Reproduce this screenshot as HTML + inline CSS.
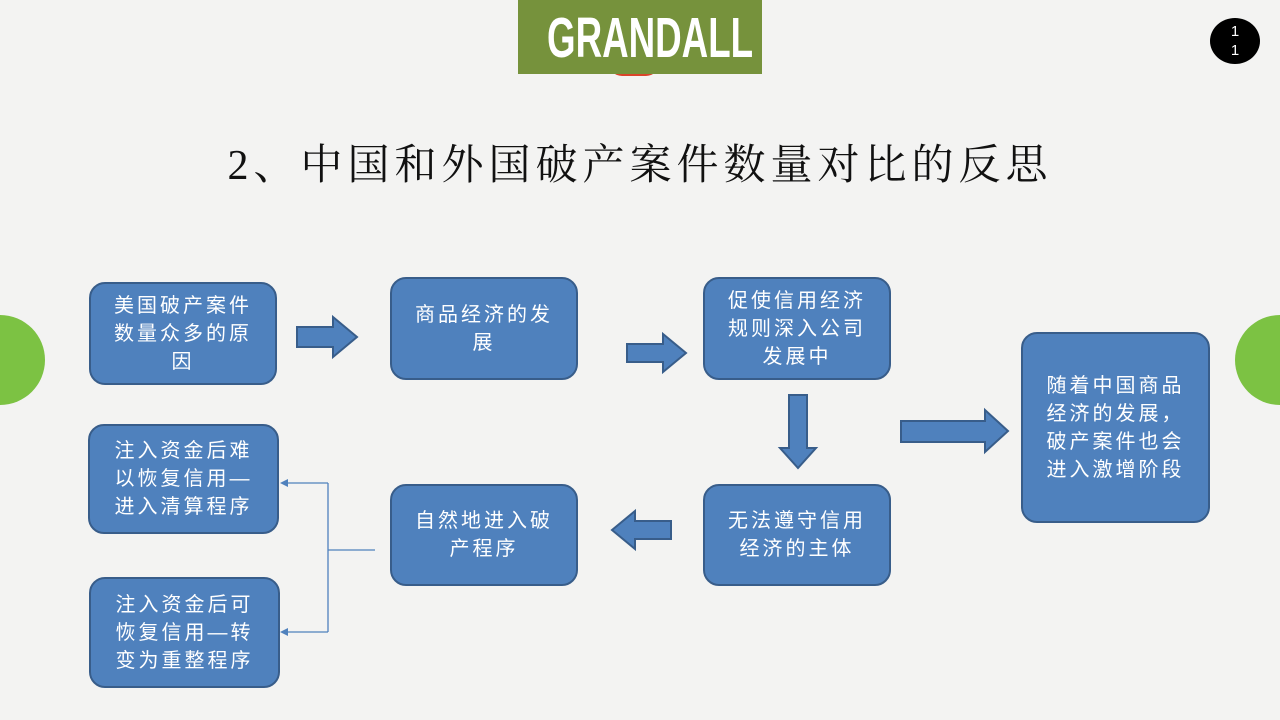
<!DOCTYPE html>
<html><head><meta charset="utf-8"><style>
body{margin:0;width:1280px;height:720px;overflow:hidden;background:#f3f3f2;position:relative;font-family:"Liberation Sans","Noto Sans CJK SC",sans-serif}
.b{position:absolute;background:#4f81bd;border:2px solid #385d8a;border-radius:16px;box-sizing:border-box;color:#fff;font-size:20px;line-height:28px;display:flex;align-items:center;justify-content:center;text-align:center;padding:0 22px;letter-spacing:3px}
</style></head><body>
<div style="position:absolute;left:0;top:315px;width:45px;height:90px;background:#7cc243;border-radius:0 45px 45px 0"></div>
<div style="position:absolute;right:0;top:315px;width:45px;height:90px;background:#7cc243;border-radius:45px 0 0 45px"></div>
<div style="position:absolute;left:608px;top:62px;width:52px;height:14px;background:#d9442a;border-radius:0 0 26px 26px"></div>
<div style="position:absolute;left:518px;top:0;width:244px;height:74px;background:#76923c;overflow:hidden"><div style="position:absolute;left:-10px;top:0;color:#fff;font-weight:bold;font-size:54px;text-align:center;line-height:76px;width:244px;transform:scaleX(0.68) scaleY(1.05)">GRANDALL</div></div>
<div style="position:absolute;left:1210px;top:18px;width:50px;height:46px;background:#000;border-radius:50%;color:#fff;font-size:15px;line-height:19px;text-align:center;padding-top:4px;box-sizing:border-box">1<br>1</div>
<div style="position:absolute;left:0;width:1280px;top:132px;text-align:center;font-size:42px;font-family:'Liberation Serif','Noto Serif CJK SC',serif;color:#111;letter-spacing:5px">2、中国和外国破产案件数量对比的反思</div>
<div class="b" style="left:89px;top:282px;width:188px;height:103px">美国破产案件数量众多的原因</div>
<div class="b" style="left:390px;top:277px;width:188px;height:103px">商品经济的发展</div>
<div class="b" style="left:703px;top:277px;width:188px;height:103px">促使信用经济规则深入公司发展中</div>
<div class="b" style="left:1021px;top:332px;width:189px;height:191px">随着中国商品经济的发展，破产案件也会进入激增阶段</div>
<div class="b" style="left:703px;top:484px;width:188px;height:102px">无法遵守信用经济的主体</div>
<div class="b" style="left:390px;top:484px;width:188px;height:102px">自然地进入破产程序</div>
<div class="b" style="left:88px;top:424px;width:191px;height:110px">注入资金后难以恢复信用—进入清算程序</div>
<div class="b" style="left:89px;top:577px;width:191px;height:111px">注入资金后可恢复信用—转变为重整程序</div>
<svg width="1280" height="720" style="position:absolute;left:0;top:0">
<g fill="#4f81bd" stroke="#385d8a" stroke-width="2">
<polygon points="297,327 333,327 333,317 357,337 333,357 333,347 297,347"/>
<polygon points="627,344 663,344 663,334 686,353 663,372 663,362 627,362"/>
<polygon points="789,395 807,395 807,448 816,448 798,468 780,448 789,448"/>
<polygon points="901,421 985,421 985,410 1008,431 985,452 985,442 901,442"/>
<polygon points="671,521 635,521 635,511 612,530 635,549 635,539 671,539"/>
</g>
<g stroke="#4f81bd" stroke-width="1.3" fill="none">
<path d="M375,550 H328 M328,483 V632 M328,483 H284 M328,632 H284"/>
</g>
<g fill="#4f81bd"><polygon points="280,483 288,479 288,487"/><polygon points="280,632 288,628 288,636"/></g>
</svg>
</body></html>
